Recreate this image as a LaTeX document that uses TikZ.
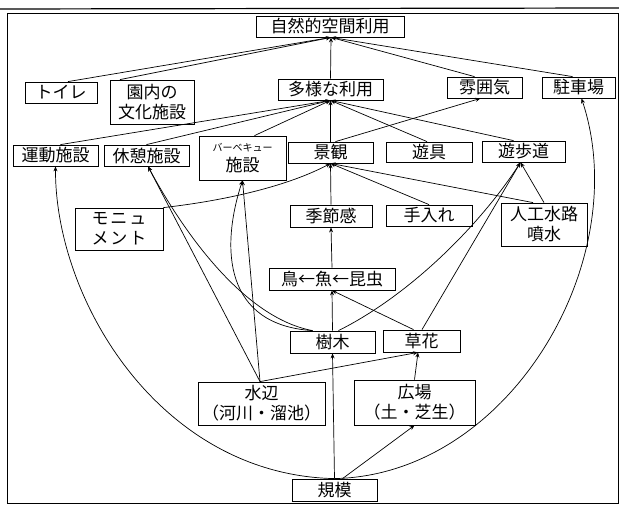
\documentclass[tikz,border=0pt]{standalone}
\usepackage{fontspec}
\setmainfont{Noto Sans CJK JP}
\usetikzlibrary{arrows.meta}
\begin{document}
\begin{tikzpicture}[x=1pt,y=-1pt,
        box/.style={draw,line width=0.8pt,inner sep=1pt,align=center,
            font=\fontsize{17}{20}\selectfont},
        arr/.style={-{Stealth[length=5pt,width=4pt]},line width=0.7pt}]
                \useasboundingbox (0,0) rectangle (619,505);
                \draw[line width=1.2pt] (0,9)--(619,8);
                \draw[line width=0.8pt] (7,13) rectangle (618,503);
                \node[box,minimum width=148pt,minimum height=21pt] (top) at (330,26.5) {自然的空間利用};
                \node[box,minimum width=72pt,minimum height=21pt] (toilet) at (61,92.5) {トイレ};
                \node[box,minimum width=84pt,minimum height=44pt] (bunka) at (152,102) {園内の\\文化施設};
                \node[box,minimum width=105pt,minimum height=21pt] (tayou) at (330.5,89.5) {多様な利用};
                \node[box,minimum width=75pt,minimum height=21pt] (fun) at (484.5,87.5) {雰囲気};
                \node[box,minimum width=73pt,minimum height=21pt] (parking) at (578.5,87.5) {駐車場};
                \node[box,minimum width=85pt,minimum height=21pt] (undou) at (55.5,155.5) {運動施設};
                \node[box,minimum width=85pt,minimum height=21pt] (kyuukei) at (146.5,155.5) {休憩施設};
                \node[box,minimum width=87pt,minimum height=44pt] (bbq) at (242.5,158) {{\fontsize{10}{14}\selectfont バーベキュー}\\施設};
                \node[box,minimum width=85pt,minimum height=21pt] (keikan) at (330.5,152.5) {景観};
                \node[box,minimum width=86pt,minimum height=20pt] (yuugu) at (429,152) {遊具};
                \node[box,minimum width=83pt,minimum height=21pt] (yuuho) at (523.5,151.5) {遊歩道};
                \node[box,minimum width=88pt,minimum height=42pt] (monu) at (119,229) {モ\hspace{2pt}ニ\hspace{2pt}ュ\\メ\hspace{2pt}ン\hspace{2pt}ト};
                \node[box,minimum width=82pt,minimum height=22pt] (kisetsu) at (331,216) {季節感};
                \node[box,minimum width=86pt,minimum height=21pt] (teire) at (429,215.5) {手入れ};
                \node[box,minimum width=86pt,minimum height=43pt] (jinkou) at (544,224.5) {人工水路\\噴水};
                \node[box,minimum width=126pt,minimum height=22pt] (tori) at (332,279) {鳥←魚←昆虫};
                \node[box,minimum width=85pt,minimum height=22pt] (jumoku) at (332.5,342) {樹木};
                \node[box,minimum width=77pt,minimum height=22pt] (kusa) at (421.5,341) {草花};
                \node[box,minimum width=127pt,minimum height=43pt] (mizu) at (261.5,403.5) {水辺\\（河川・溜池）};
                \node[box,minimum width=121pt,minimum height=45pt] (hiroba) at (414.5,402.5) {広場\\（土・芝生）};
                \node[box,minimum width=85pt,minimum height=22pt] (kibo) at (334.5,490) {規模};
                \coordinate (topin) at ([xshift=1pt]top.south);
                \draw[arr] ([xshift=7pt]toilet.north)--(topin);
                \draw[arr] ([xshift=-32pt]bunka.north)--(topin);
                \draw[arr] (tayou.north)--(topin);
                \draw[arr] ([xshift=-10pt]fun.north)--(topin);
                \draw[arr] ([xshift=-6pt]parking.north)--(topin);
                \draw[arr] ([xshift=5pt]undou.north)--(tayou.south);
                \draw[arr] (kyuukei.north)--(tayou.south);
                \draw[arr] ([xshift=12pt]bbq.north)--(tayou.south);
                \draw[arr] (keikan.north)--(tayou.south);
                \draw[arr] ([xshift=-2pt]yuugu.north)--(tayou.south);
                \draw[arr] ([xshift=-10pt]yuuho.north)--(tayou.south);
                \draw[arr] ([xshift=5pt]keikan.north)--([xshift=-4pt]fun.south);
                \draw[arr] (monu.north east) .. controls (230,200) and (290,185) .. (keikan.south);
                \draw[arr] (kisetsu.north)--(keikan.south);
                \draw[arr] (teire.north)--(keikan.south);
                \draw[arr] ([xshift=-11pt]jinkou.north)--(keikan.south);
                \draw[arr] (jinkou.north)--([xshift=-3pt]yuuho.south);
                \draw[arr] ([xshift=0.5pt]kusa.north)--([xshift=-3pt]yuuho.south);
                \draw[arr] ([xshift=6pt]jumoku.north) .. controls (410,295) and (480,225) .. ([xshift=-3pt]yuuho.south);
                \draw[arr] (tori.north)--(kisetsu.south);
                \draw[arr] (jumoku.north)--(tori.south);
                \draw[arr] ([xshift=-8pt]kusa.north)--(tori.south);
                \draw[arr] ([xshift=-1.5pt]mizu.north)--([xshift=1.5pt]kyuukei.south);
                \draw[arr] ([xshift=-20pt]jumoku.north) .. controls (245,318) and (185,235) .. ([xshift=1.5pt]kyuukei.south);
                \draw[arr] ([xshift=-1.5pt]mizu.north)--(bbq.south);
                \draw[arr] ([xshift=-20pt]jumoku.north) .. controls (225,325) and (220,250) .. (bbq.south);
                \draw[arr] ([xshift=-1.5pt]mizu.north)--([xshift=-3.5pt]kusa.south);
                \draw[arr] (hiroba.north)--([xshift=-3.5pt]kusa.south);
                \draw[arr] (kibo.north)--(jumoku.south);
                \draw[arr] ([xshift=8pt]kibo.north)--(hiroba.south);
                \draw[arr] (kibo.north) .. controls (160,475) and (55,300) .. (undou.south);
                \draw[arr] (kibo.north) .. controls (510,475) and (635,260) .. ([xshift=3pt]parking.south);
\end{tikzpicture}
\end{document}
